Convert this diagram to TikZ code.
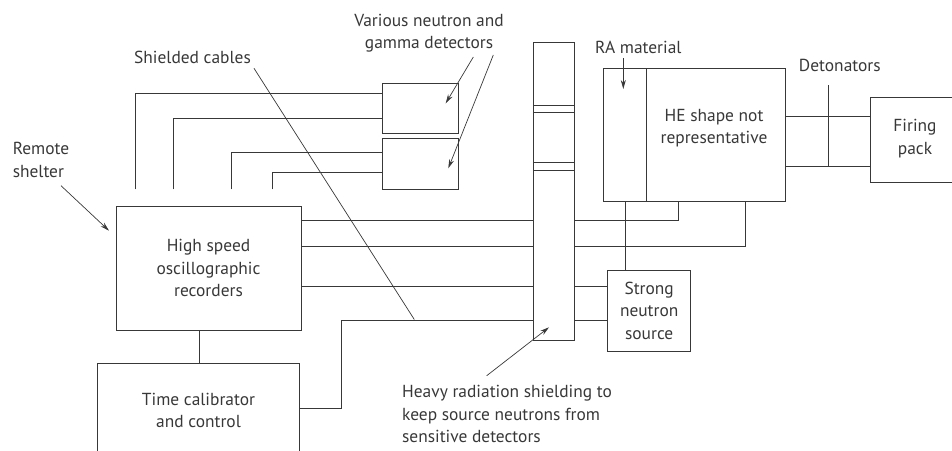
\documentclass[tikz,border=0pt]{standalone}
\usepackage{fontspec}
\setmainfont{PT Sans}
\usetikzlibrary{arrows.meta}
\definecolor{ink}{HTML}{383838}
\begin{document}
\begin{tikzpicture}[x=1pt,y=-1pt,
  line width=0.9pt, draw=ink, text=ink,
  font=\fontsize{17.4}{22.3}\selectfont,
  box/.style={draw=ink, line width=0.9pt, rectangle, inner sep=0pt, align=center},
  wire/.style={draw=ink, line width=0.9pt},
  thin wire/.style={draw=ink, line width=0.7pt},
  pointer/.style={draw=ink, line width=0.7pt, -{Stealth[length=9pt,width=5pt]}},
  label/.style={inner sep=0pt, align=center}]
\useasboundingbox (0,0) rectangle (952,450);
\clip (0,0) rectangle (952,450);

% equipment boxes
\node[box, minimum width=185pt, minimum height=124pt] (rec) at (208.5,268)
  {High speed\\oscillographic\\recorders};
\node[box, minimum width=201.6pt, minimum height=94pt] (tcal) at (198.5,410.5)
  {Time calibrator\\and control};
\node[box, minimum width=76pt, minimum height=50pt] (det1) at (420,108) {};
\node[box, minimum width=76pt, minimum height=51pt] (det2) at (420,163.5) {};
\node[box, minimum width=41pt, minimum height=298pt] (shield) at (553.8,191.7) {};
\node[box, minimum width=181.6pt, minimum height=132.3pt] (he) at (694.5,134.85) {};
\node[label] (hetext) at (714,128) {HE shape not\\representative};
\node[box, minimum width=110pt, minimum height=85.4pt] (fp) at (925.7,140) {};
\node[label] (fptext) at (915,138.5) {Firing\\pack};
\node[box, minimum width=83pt, minimum height=81.7pt] (sns) at (649.2,310.8)
  {Strong\\neutron\\source};

% shield joints and RA material layer
\draw[wire] (shield.west |- 0,105.3) -- (shield.east |- 0,105.3);
\draw[wire] (shield.west |- 0,112.3) -- (shield.east |- 0,112.3);
\draw[wire] (shield.west |- 0,162.7) -- (shield.east |- 0,162.7);
\draw[wire] (shield.west |- 0,170) -- (shield.east |- 0,170);
\draw[wire] (he.north west -| 646.7,0) -- (he.south west -| 646.7,0);

% detector cables (free ends at the recorder side)
\coordinate (c1) at (135.7,189.3);
\coordinate (c2) at (173,189.3);
\coordinate (c3) at (231.7,189.3);
\coordinate (c4) at (272.7,189.3);
\draw[wire] (c1) |- (det1.west |- 0,93.3);
\draw[wire] (c2) |- (det1.west |- 0,118.3);
\draw[wire] (c3) |- (det2.west |- 0,152.7);
\draw[wire] (c4) |- (det2.west |- 0,172.7);

% cables from the recorders through the shield
\draw[wire] (rec.east |- 0,220) -- (shield.west |- 0,220);
\draw[wire] (shield.east |- 0,220) -| (he.south -| 678,0);
\draw[wire] (rec.east |- 0,246) -- (shield.west |- 0,246);
\draw[wire] (shield.east |- 0,246) -| (he.south -| 745,0);
\draw[wire] (rec.east |- 0,286.7) -- (shield.west |- 0,286.7);
\draw[wire] (shield.east |- 0,286.7) -- (sns.west |- 0,286.7);
\draw[wire] (tcal.east |- 0,408.3) -| (341.7,320) -- (shield.west |- 0,320);
\draw[wire] (shield.east |- 0,320) -- (sns.west |- 0,320);
\draw[wire] (he.south -| 625.7,0) -- (sns.north -| 625.7,0);
\draw[wire] (rec.south -| 199.3,0) -- (tcal.north -| 199.3,0);

% firing lines and detonators
\draw[wire] (he.east |- 0,116.7) -- (fp.west |- 0,116.7);
\draw[wire] (he.east |- 0,166.7) -- (fp.west |- 0,166.7);
\coordinate (dtop) at (828.7,85);
\coordinate (dbot) at (828.7,165.7);
\draw[wire] (dtop) -- (dbot);

% shielded cable leader
\coordinate (sc1) at (254,68.3);
\coordinate (sc2) at (414.3,319.5);
\draw[thin wire] (sc1) -- (sc2);

% labels
\node[label] (lvar) at (429,33.3) {Various neutron and\\gamma detectors};
\node[label] (lsc) at (192.5,57) {Shielded cables};
\node[label, align=left, anchor=west] (lrem) at (12.3,160) {Remote\\shelter};
\node[label] (lra) at (638.3,47.3) {RA material};
\node[label] (ldet) at (839.8,65) {Detonators};
\node[label, align=left, anchor=west] (lheavy) at (401.7,414)
  {Heavy radiation shielding to\\keep source neutrons from\\sensitive detectors};

% pointer arrows
\coordinate (a1s) at (473.3,57);   \coordinate (a1e) at (445.7,103.3);
\coordinate (a2s) at (493.3,55);   \coordinate (a2e) at (448.3,168.3);
\coordinate (a3s) at (623.3,58);   \coordinate (a3e) at (623.3,89);
\coordinate (a4s) at (61,185.7);   \coordinate (a4e) at (109,230.7);
\coordinate (a5s) at (486.7,375.7);\coordinate (a5e) at (549,327.3);
\draw[pointer] (a1s) -- (a1e);
\draw[pointer] (a2s) -- (a2e);
\draw[pointer] (a3s) -- (a3e);
\draw[pointer] (a4s) -- (a4e);
\draw[pointer] (a5s) -- (a5e);
\end{tikzpicture}
\end{document}
